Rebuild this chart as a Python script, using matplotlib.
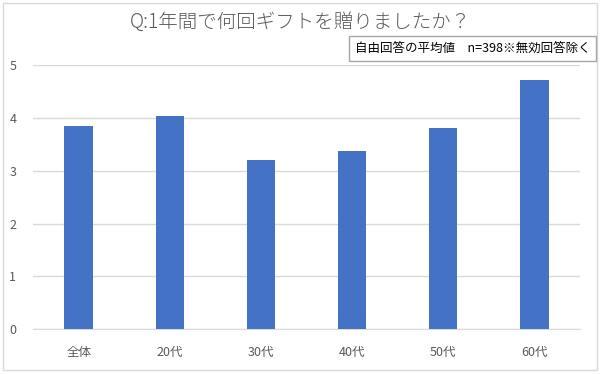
import matplotlib
matplotlib.use("Agg")
import matplotlib.pyplot as plt
from matplotlib.patches import Rectangle

plt.rcParams['font.family'] = ['Noto Sans CJK JP', 'DejaVu Sans']

categories = ["全体", "20代", "30代", "40代", "50代", "60代"]
values = [3.84, 4.04, 3.21, 3.38, 3.82, 4.72]
yticks = [0, 1, 2, 3, 4, 5]

title = "Q:1年間で何回ギフトを贈りましたか？"
note = "自由回答の平均値　n=398※無効回答除く"

W, H = 601, 374
fig = plt.figure(figsize=(W / 100, H / 100), dpi=100)
ax = fig.add_axes([33 / W, 1 - 329 / H, (580 - 33) / W, (329 - 65.3) / H])

x = range(len(categories))
ax.bar(x, values, width=0.31, color="#4472C4", zorder=3)

ax.set_xlim(-0.5, len(categories) - 0.5)
ax.set_ylim(0, 5)
ax.set_yticks(yticks)
ax.set_xticks(list(x))
ax.set_xticklabels(categories)
ax.grid(axis="y", color="#d9d9d9", linewidth=1, zorder=0)
for s in ["top", "right", "left"]:
    ax.spines[s].set_visible(False)
ax.spines["bottom"].set_color("#d9d9d9")
ax.tick_params(length=0, labelsize=9, labelcolor="#595959")
ax.tick_params(axis="x", pad=12)
ax.tick_params(axis="y", pad=12)

fig.text(0.5, 1 - 22 / H, title, ha="center", va="center", fontsize=14,
         fontweight="light", color="#595959")

fig.text(472.5 / W, 1 - 48.5 / H, note, ha="center", va="center", fontsize=9, color="black",
         bbox=dict(boxstyle="square,pad=0.45", facecolor="white", edgecolor="#a6a6a6", linewidth=1))

fig.patches.append(Rectangle((3 / W, 4 / H), 594 / W, 367 / H, transform=fig.transFigure,
                             fill=False, edgecolor="#d9d9d9", linewidth=1))

fig.savefig("out.png", dpi=100)
